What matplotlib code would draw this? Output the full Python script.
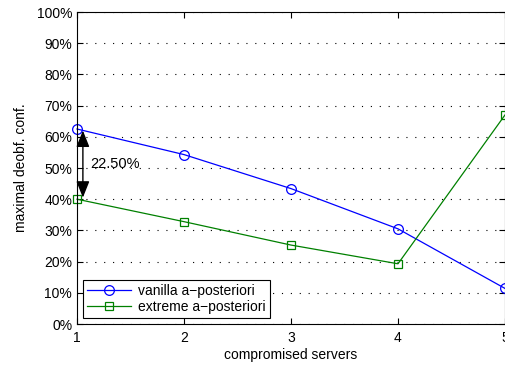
import numpy as np
import matplotlib
matplotlib.use("Agg")
import matplotlib.pyplot as plt
from matplotlib.ticker import FuncFormatter

plt.rcParams['font.family'] = ['Liberation Sans', 'DejaVu Sans']

# data
servers = [1, 2, 3, 4, 5]
vanilla = [62.5, 54.3, 43.4, 30.5, 11.4]
extreme = [40.0, 32.8, 25.3, 19.3, 67.0]
gap_label = "22.50%"

fig = plt.figure(figsize=(5.05, 3.65), dpi=100)
ax = fig.add_axes([77 / 505, 41 / 365, 428 / 505, 312 / 365])

ax.plot(servers, vanilla, color=(0, 0, 1), lw=0.9, marker='o', ms=7,
        mfc='none', mec=(0, 0, 1), mew=0.9, clip_on=False, label='vanilla a\u2212posteriori')
ax.plot(servers, extreme, color=(0, 0.5, 0), lw=0.9, marker='s', ms=6,
        mfc='none', mec=(0, 0.5, 0), mew=0.9, clip_on=False, label='extreme a\u2212posteriori')

# double arrow showing the gap at x=1
ax.annotate('', xy=(1.055, extreme[0] + 0.5), xytext=(1.055, vanilla[0] - 0.5),
            arrowprops=dict(arrowstyle='<|-|>,head_length=0.5,head_width=0.2',
                            color='black', lw=1.0,
                            mutation_scale=20, shrinkA=0, shrinkB=0))
ax.text(1.12, (vanilla[0] + extreme[0]) / 2, gap_label, fontsize=10.5,
        va='center', ha='left')

ax.set_xlim(1, 5)
ax.set_ylim(0, 100)
ax.set_xticks(servers)
ax.set_yticks(np.arange(0, 101, 10))
ax.yaxis.set_major_formatter(FuncFormatter(lambda v, p: '%d%%' % v))
ax.tick_params(direction='in', length=4, labelsize=10, top=True, right=True, width=0.8)
ax.tick_params(axis='x', pad=5)
ax.yaxis.grid(True, linestyle=(0, (1, 7)), color='black', lw=0.8)
for s in ax.spines.values():
    s.set_linewidth(0.8)

ax.set_xlabel('compromised servers', fontsize=10, labelpad=2)
ax.set_ylabel('maximal deobf. conf.', fontsize=10, labelpad=6)

leg = ax.legend(loc='lower left', fontsize=10, fancybox=False, framealpha=1,
                edgecolor='black', handlelength=3.2, borderpad=0.3,
                labelspacing=0.15, borderaxespad=0.4, handletextpad=0.5)
leg.get_frame().set_linewidth(0.8)

fig.savefig('out.png', dpi=100)
